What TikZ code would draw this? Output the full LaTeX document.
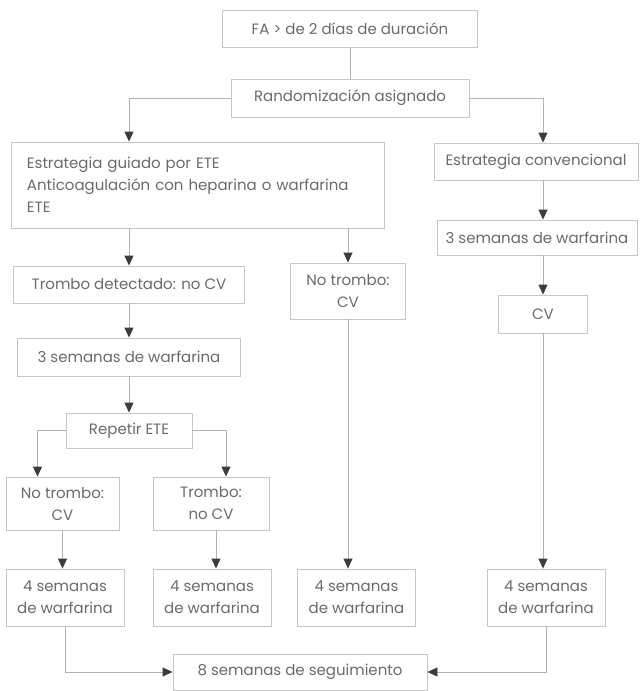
\documentclass[tikz,border=0pt]{standalone}
\usepackage{fontspec}
\setmainfont{Poppins}
\usetikzlibrary{arrows.meta}
\definecolor{boxline}{HTML}{C6C6C6}
\definecolor{conline}{HTML}{B2B2B2}
\definecolor{tipgray}{HTML}{3C3C3C}
\definecolor{txtgray}{HTML}{6A6A6A}
\tikzset{
  caja/.style={draw=boxline, line width=0.9pt, text=txtgray, align=center, inner sep=0pt, font=\fontsize{15}{22}\selectfont},
  semana/.style={caja, minimum width=118pt, minimum height=57pt},
  linea/.style={draw=conline, line width=0.9pt},
}
\begin{document}
\begin{tikzpicture}[>={Triangle[width=9pt,length=10pt,color=tipgray]}, x=1pt, y=-1pt]
	\useasboundingbox (0,0) rectangle (641,691);
	\node (fa) at (350,29) [caja, minimum width=255pt, minimum height=37pt] {FA > de 2 días de duración};
	\node (rand) at (350,98) [caja, minimum width=238pt, minimum height=38pt] {Randomización asignado} edge [linea] (fa);
	\node (ete) at (197.5,185) [caja, text width=341pt, inner xsep=16pt, align=left, minimum height=86pt] {Estrategia guiado por ETE\\ Anticoagulación con heparina o warfarina\\ ETE};
	\node (conv) at (536,161.5) [caja, minimum width=204pt, minimum height=37pt] {Estrategia convencional};
	\node (w3r) at (537,237.5) [caja, minimum width=200pt, minimum height=35pt] {3 semanas de warfarina};
	\node (cvr) at (543,314) [caja, minimum width=89pt, minimum height=38pt] {CV};
	\node (td) at (129,284.5) [caja, minimum width=231pt, minimum height=37pt] {Trombo detectado: no CV};
	\node (ntm) at (348,291) [caja, minimum width=115pt, minimum height=56pt] {No trombo:\\ CV};
	\node (w3l) at (129,357) [caja, minimum width=223pt, minimum height=38pt] {3 semanas de warfarina} edge [linea, <-] (td);
	\node (rep) at (129,430.5) [caja, minimum width=126pt, minimum height=35pt] {Repetir ETE} edge [linea, <-] (w3l);
	\node (ntl) at (62.5,503.5) [caja, minimum width=113pt, minimum height=53pt] {No trombo:\\ CV};
	\node (tnc) at (211,503.5) [caja, minimum width=116pt, minimum height=53pt] {Trombo:\\ no CV};
	\node (w4a) at (65,597.5) [semana] {4 semanas\\ de warfarina};
	\node (w4b) at (212,597.5) [semana] {4 semanas\\ de warfarina};
	\node (w4c) at (356.5,597.5) [semana] {4 semanas\\ de warfarina};
	\node (w4d) at (546,597.5) [semana] {4 semanas\\ de warfarina};
	\node (seg) at (300,672) [caja, minimum width=254pt, minimum height=36pt] {8 semanas de seguimiento};
	% ramas de la randomizacion
	\draw[linea, ->] (rand.west) -| (ete.north -| td);
	\draw[linea, ->] (rand.east) -| (conv.north -| cvr);
	\draw[linea, ->] (ete.south -| td) -- (td);
	\draw[linea, ->] (ete.south -| ntm) -- (ntm);
	\draw[linea, ->] (conv.south -| cvr) -- (w3r.north -| cvr);
	\draw[linea, ->] (w3r.south -| cvr) -- (cvr);
	% repetir ETE
	\draw[linea, ->] (rep.west) -| ([xshift=-25pt]ntl.north);
	\draw[linea, ->] (rep.east) -| ([xshift=15pt]tnc.north);
	\draw[linea, ->] (ntl) -- (ntl |- w4a.north);
	\draw[linea, ->] ([xshift=5pt]tnc.south) -- ([xshift=5pt]tnc.south |- w4b.north);
	\draw[linea, ->] (ntm) -- (ntm |- w4c.north);
	\draw[linea, ->] (cvr) -- (cvr |- w4d.north);
	% seguimiento
	\draw[linea, ->] (w4a.south) |- (seg.west);
	\draw[linea, ->] (w4d.south) |- (seg.east);
\end{tikzpicture}
\end{document}
